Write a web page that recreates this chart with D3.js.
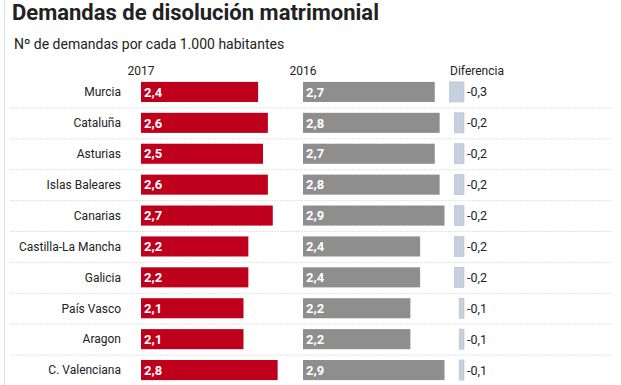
<!DOCTYPE html>
<html>
<head>
<meta charset="utf-8">
<script src="https://cdn.jsdelivr.net/npm/d3@7"></script>
<style>
  body { margin: 0; background: #fff; }
  svg { display: block; font-family: Roboto, "Noto Sans", sans-serif; }
</style>
</head>
<body>
<script>
// data
var regions = ["Murcia", "Cataluña", "Asturias", "Islas Baleares", "Canarias",
               "Castilla-La Mancha", "Galicia", "País Vasco", "Aragon", "C. Valenciana"];
var v2017 = [2.4, 2.6, 2.5, 2.6, 2.7, 2.2, 2.2, 2.1, 2.1, 2.8];
var v2016 = [2.7, 2.8, 2.7, 2.8, 2.9, 2.4, 2.4, 2.2, 2.2, 2.9];
var diff  = [-0.3, -0.2, -0.2, -0.2, -0.2, -0.2, -0.2, -0.1, -0.1, -0.1];
var headers = ["2017", "2016", "Diferencia"];

var w = 621, h = 385;

var svg = d3.select("body").append("svg")
    .attr("width", w)
    .attr("height", h);

// rows
var y = d3.scaleBand()
    .domain(regions)
    .range([76.5, 385.5])
    .paddingInner(0.35)
    .paddingOuter(0.175);

// value scales, same px per unit for all three columns
var x17 = d3.scaleLinear().domain([0, 3]).range([141, 141 + 3 * 48.8]);
var x16 = d3.scaleLinear().domain([0, 3]).range([303, 303 + 3 * 48.8]);
var xd = d3.scaleLinear().domain([0, 0.3]).range([0, 14.5]);

var comma = function(v) { return d3.format(".1f")(v).replace(".", ",").replace("−", "-"); };

// left frame line
svg.append("line")
    .attr("x1", 4.5).attr("x2", 4.5)
    .attr("y1", 0).attr("y2", h)
    .attr("stroke", "#dedede")
    .attr("stroke-width", 1);

// title + subtitle
svg.append("text")
    .text("Demandas de disolución matrimonial")
    .attr("x", 12).attr("y", 20)
    .attr("font-size", "22px")
    .attr("font-weight", "bold")
    .attr("fill", "#222");

svg.append("text")
    .text("Nº de demandas por cada 1.000 habitantes")
    .attr("x", 14).attr("y", 49)
    .attr("font-size", "14px")
    .attr("fill", "#222");

// column headers
var headX = [141, 303, 477];
svg.selectAll(".head")
    .data(headers)
    .enter().append("text")
    .attr("class", "head")
    .text(function(d) { return d; })
    .attr("x", function(d, i) { return headX[i]; })
    .attr("y", 75)
    .attr("text-anchor", "middle")
    .attr("font-size", "12px")
    .attr("fill", "#222");

// dotted separators between rows
svg.selectAll(".sep")
    .data(regions.slice(0, regions.length - 1))
    .enter().append("line")
    .attr("class", "sep")
    .attr("x1", 10).attr("x2", 612)
    .attr("y1", function(d) { return y(d) + y.bandwidth() + y.step() * 0.175 + 0.5; })
    .attr("y2", function(d) { return y(d) + y.bandwidth() + y.step() * 0.175 + 0.5; })
    .attr("stroke", "#e2e2e2")
    .attr("stroke-dasharray", "2,1");

// region labels
svg.selectAll(".reg")
    .data(regions)
    .enter().append("text")
    .attr("class", "reg")
    .text(function(d) { return d; })
    .attr("x", 121)
    .attr("y", function(d) { return y(d) + y.bandwidth() / 2; })
    .attr("dy", "0.36em")
    .attr("text-anchor", "end")
    .attr("font-size", "12px")
    .attr("fill", "#222");

// 2017 bars
svg.selectAll(".b17")
    .data(v2017)
    .enter().append("rect")
    .attr("class", "b17")
    .attr("x", x17(0))
    .attr("y", function(d, i) { return y(regions[i]); })
    .attr("width", function(d) { return x17(d) - x17(0); })
    .attr("height", y.bandwidth())
    .attr("fill", "#bf001c");

// 2016 bars
svg.selectAll(".b16")
    .data(v2016)
    .enter().append("rect")
    .attr("class", "b16")
    .attr("x", x16(0))
    .attr("y", function(d, i) { return y(regions[i]); })
    .attr("width", function(d) { return x16(d) - x16(0); })
    .attr("height", y.bandwidth())
    .attr("fill", "#8e8e8e");

// value labels inside bars
[[v2017, x17], [v2016, x16]].forEach(function(s) {
    svg.selectAll(null)
        .data(s[0])
        .enter().append("text")
        .text(function(d) { return comma(d); })
        .attr("x", s[1](0) + 3)
        .attr("y", function(d, i) { return y(regions[i]) + y.bandwidth() / 2; })
        .attr("dy", "0.36em")
        .attr("font-size", "13px")
        .attr("font-weight", "bold")
        .attr("fill", "#fff");
});

// difference bars, right aligned at 464
var dEnd = 464;
svg.selectAll(".bd")
    .data(diff)
    .enter().append("rect")
    .attr("class", "bd")
    .attr("x", function(d) { return dEnd - xd(Math.abs(d)); })
    .attr("y", function(d, i) { return y(regions[i]); })
    .attr("width", function(d) { return xd(Math.abs(d)); })
    .attr("height", y.bandwidth())
    .attr("fill", "#c6d1de")
    .attr("stroke", "#b3c0cf")
    .attr("stroke-width", 0.6);

svg.selectAll(".ld")
    .data(diff)
    .enter().append("text")
    .attr("class", "ld")
    .text(function(d) { return comma(d); })
    .attr("x", dEnd + 3)
    .attr("y", function(d, i) { return y(regions[i]) + y.bandwidth() / 2; })
    .attr("dy", "0.36em")
    .attr("font-size", "12.5px")
    .attr("fill", "#222");
</script>
</body>
</html>
